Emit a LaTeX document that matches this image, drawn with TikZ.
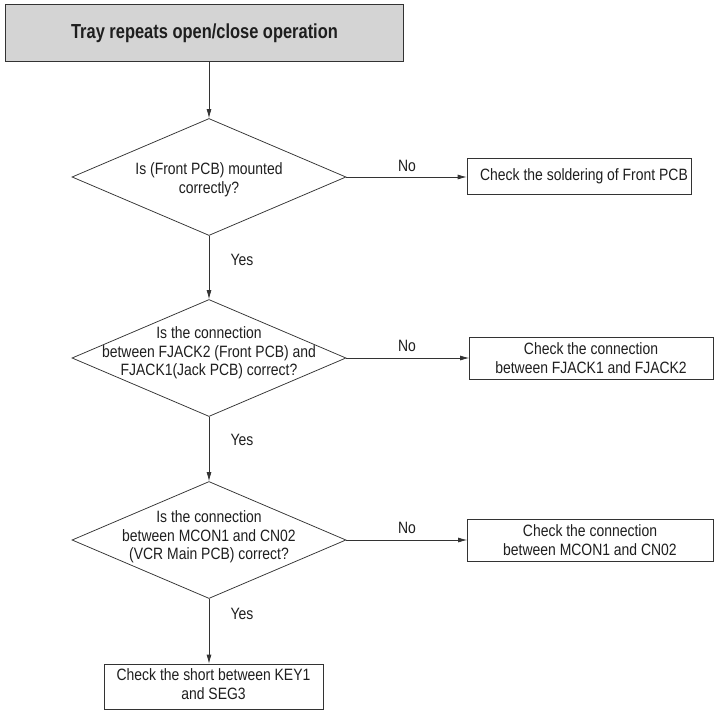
\documentclass[tikz,border=0pt]{standalone}
\usepackage{fontspec}
\setmainfont{Liberation Sans}[FakeStretch=0.85]
\newfontfamily\titlefont{Liberation Sans}[FakeStretch=0.81]
\usetikzlibrary{shapes.geometric,arrows.meta}
\definecolor{ln}{HTML}{333333}
\definecolor{tx}{HTML}{1E1E1E}
\definecolor{tfill}{HTML}{D4D4D4}
\begin{document}
\begin{tikzpicture}[x=1pt,y=-1pt,
  every node/.style={text=tx},
  body/.style={font=\fontsize{16.4}{18.5}\selectfont, align=center, inner sep=0pt},
  dec/.style={shape=diamond, draw=ln, line width=0.75pt, minimum width=274pt, minimum height=117pt, inner sep=0pt},
  actbox/.style={draw=ln, line width=0.75pt, inner sep=0pt},
  flow/.style={draw=ln, line width=0.75pt, -{Latex[length=9pt,width=5pt]}},
  lbl/.style={font=\fontsize{16.4}{18.5}\selectfont, inner sep=0pt}]
\useasboundingbox (0,0) rectangle (715,712);

% title
\node[draw=ln, line width=1.3pt, fill=tfill, minimum width=398pt, minimum height=57pt, inner sep=0pt,
      font=\titlefont\bfseries\fontsize{20.3}{23}\selectfont] (title) at (204.5,33) {Tray repeats open/close operation};

% decisions
\node[dec] (d1) at (209,177) {};
\node[body] (t1) at (209,180) {Is (Front PCB) mounted\\correctly?};
\node[dec] (d2) at (209,358) {};
\node[body] (t2) at (209,353) {Is the connection\\between FJACK2 (Front PCB) and\\FJACK1(Jack PCB) correct?};
\node[dec] (d3) at (209,540) {};
\node[body] (t3) at (209,537) {Is the connection\\between MCON1 and CN02\\(VCR Main PCB) correct?};

% actions
\node[actbox, minimum width=224pt, minimum height=36pt] (b1) at (579,176) {};
\node[body] (bt1) at (584,176) {Check the soldering of Front PCB};
\node[actbox, minimum width=244pt, minimum height=42pt] (b2) at (591.5,358) {};
\node[body] (bt2) at (591,358) {Check the connection\\between FJACK1 and FJACK2};
\node[actbox, minimum width=246pt, minimum height=42pt] (b3) at (590.5,540) {};
\node[body] (bt3) at (590,540) {Check the connection\\between MCON1 and CN02};
\node[actbox, minimum width=219pt, minimum height=45pt] (b4) at (213.5,686.5) {};
\node[body] (bt4) at (213.5,684) {Check the short between KEY1\\and SEG3};

% connectors
\draw[flow] (d1.north |- title.south) -- (d1.north);
\draw[flow] (d1.south) -- (d2.north);
\draw[flow] (d2.south) -- (d3.north);
\draw[flow] (d3.south) -- (d3.south |- b4.north);
\draw[flow] (d1.east) -- (d1.east -| b1.west);
\draw[flow] (d2.east) -- (d2.east -| b2.west);
\draw[flow] (d3.east) -- (d3.east -| b3.west);

% labels
\node[lbl] (y1) at (242,260) {Yes};
\node[lbl] (y2) at (242,440) {Yes};
\node[lbl] (y3) at (242,614) {Yes};
\node[lbl] (n1) at (407,166) {No};
\node[lbl] (n2) at (407,346) {No};
\node[lbl] (n3) at (407,528) {No};
\end{tikzpicture}
\end{document}
